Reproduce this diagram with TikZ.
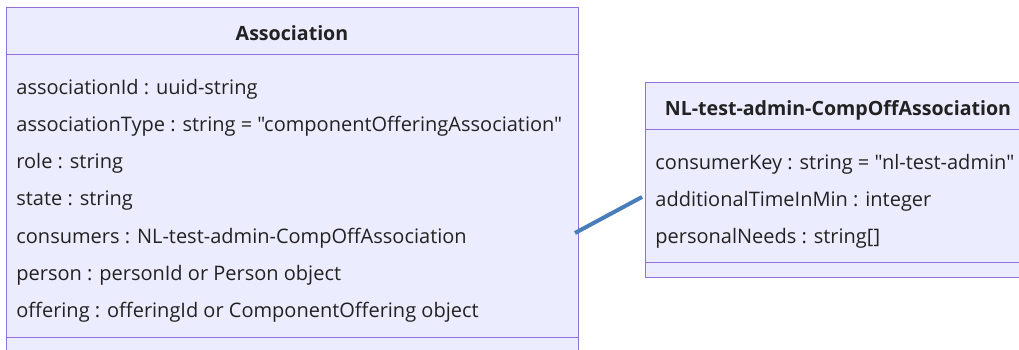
\documentclass[tikz,border=0pt]{standalone}
\usepackage{fontspec}
\setmainfont{Open Sans}[Ligatures=TeXOff]
\usepackage{tikz}
\usepackage{xcolor}
\definecolor{boxfill}{HTML}{ECECFF}
\definecolor{boxline}{HTML}{9370DB}
\definecolor{txt}{HTML}{222222}
\definecolor{linkblue}{HTML}{4A7EBB}

\begin{document}
\begin{tikzpicture}[x=0.5pt,y=-0.5pt,
  attr/.style={anchor=base west,inner sep=0pt,text=txt,font=\fontsize{10}{12}\selectfont},
  title/.style={anchor=base,inner sep=0pt,text=txt,font=\fontsize{9.8}{12}\selectfont\bfseries}]
\useasboundingbox (0,0) rectangle (1019,349);
\begin{scope}
\clip (0,0) rectangle (1019,349);
% Association class
\fill[boxfill] (6,7) rectangle (578,360);
\draw[boxline] (6,7) rectangle (578,360);
\draw[boxline] (6,54) -- (578,54);
\draw[boxline] (6,337) -- (578,337);
\node[title] (assoc) at (292,40) {Association};
\node[attr] (a1) at (16,94) {associationId : uuid-string};
\node[attr] (a2) at (16,131) {associationType : string = "componentOfferingAssociation"};
\node[attr] (a3) at (16,168) {role : string};
\node[attr] (a4) at (16,205) {state : string};
\node[attr] (a5) at (16,243) {consumers : NL-test-admin-CompOffAssociation};
\node[attr] (a6) at (16,280) {person : personId or Person object};
\node[attr] (a7) at (16,317) {offering : offeringId or ComponentOffering object};
% NL-test-admin-CompOffAssociation class
\fill[boxfill] (645,82) rectangle (1031,277);
\draw[boxline] (645,82) rectangle (1031,277);
\draw[boxline] (645,129) -- (1031,129);
\draw[boxline] (645,262) -- (1031,262);
\node[title] (comp) at (838,115) {NL-test-admin-CompOffAssociation};
\node[attr] (c1) at (655,169) {consumerKey : string = "nl-test-admin"};
\node[attr] (c2) at (655,206) {additionalTimeInMin : integer};
\node[attr] (c3) at (655,243) {personalNeeds : string[]};
\end{scope}
% link
\coordinate (assocR) at (575,233);
\coordinate (compL) at (642,197);
\draw[linkblue,line width=2pt] (assocR) -- (compL);
\end{tikzpicture}
\end{document}
